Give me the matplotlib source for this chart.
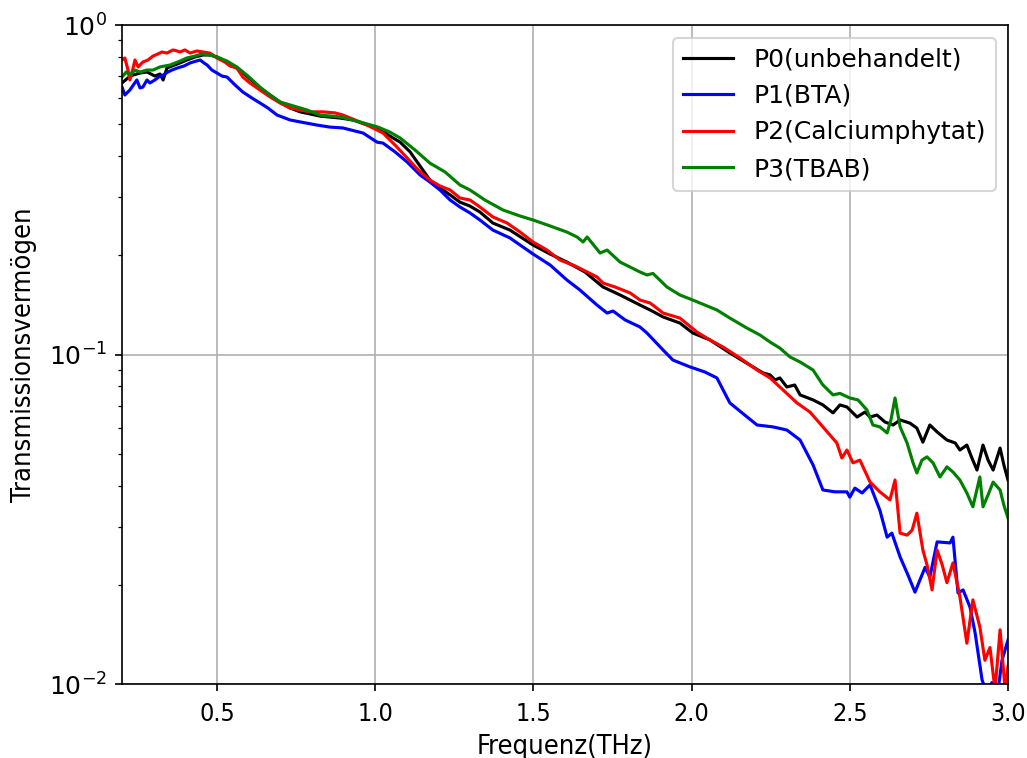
import matplotlib
matplotlib.use("Agg")
import matplotlib.pyplot as plt
import numpy as np

# ---- data ----
p0_x = [0.200, 0.219, 0.235, 0.257, 0.279, 0.304, 0.320, 0.330, 0.342, 0.358, 0.383, 0.405, 0.431, 0.456, 0.478,
        0.500, 0.532, 0.563, 0.598, 0.636, 0.668, 0.699, 0.731, 0.763, 0.826, 0.889, 0.930, 0.968, 1.006, 1.047,
        1.079, 1.110, 1.132, 1.173, 1.205, 1.237, 1.268, 1.300, 1.331, 1.372, 1.426, 1.499, 1.553, 1.606, 1.663,
        1.720, 1.774, 1.837, 1.869, 1.910, 1.963, 2.004, 2.058, 2.121, 2.168, 2.226, 2.248, 2.264, 2.279, 2.301,
        2.326, 2.343, 2.384, 2.415, 2.447, 2.469, 2.491, 2.523, 2.548, 2.564, 2.586, 2.611, 2.637, 2.659, 2.690,
        2.712, 2.731, 2.753, 2.776, 2.807, 2.833, 2.848, 2.870, 2.886, 2.902, 2.921, 2.937, 2.953, 2.975, 2.987, 3.000]
p0_y = [0.667, 0.691, 0.705, 0.715, 0.720, 0.700, 0.710, 0.681, 0.740, 0.751, 0.767, 0.783, 0.800, 0.811, 0.811,
        0.800, 0.772, 0.740, 0.695, 0.644, 0.613, 0.584, 0.560, 0.545, 0.529, 0.522, 0.515, 0.500, 0.487, 0.460,
        0.441, 0.4125, 0.385, 0.3385, 0.320, 0.305, 0.290, 0.282, 0.2707, 0.2506, 0.2386, 0.2149, 0.2018, 0.1908, 0.1780,
        0.1603, 0.1516, 0.1413, 0.1365, 0.1300, 0.1246, 0.1162, 0.1107, 0.1011, 0.0949, 0.0879, 0.0867, 0.0837, 0.0849, 0.0797,
        0.0808, 0.0754, 0.0728, 0.0703, 0.0665, 0.0703, 0.0693, 0.0646, 0.0669, 0.0646, 0.0655, 0.0624, 0.0611, 0.0633, 0.0619,
        0.0598, 0.0542, 0.0611, 0.0582, 0.0550, 0.0539, 0.0513, 0.0531, 0.0485, 0.0446, 0.0531, 0.0478, 0.0446, 0.0520, 0.0462, 0.0416]

p1_x = [0.200, 0.209, 0.225, 0.238, 0.247, 0.257, 0.266, 0.279, 0.288, 0.304, 0.320, 0.330, 0.345, 0.358, 0.374,
        0.396, 0.415, 0.434, 0.447, 0.459, 0.469, 0.484, 0.500, 0.516, 0.532, 0.557, 0.582, 0.611, 0.636, 0.661,
        0.690, 0.731, 0.763, 0.816, 0.857, 0.898, 0.962, 1.006, 1.025, 1.063, 1.101, 1.142, 1.173, 1.205, 1.237,
        1.268, 1.300, 1.331, 1.372, 1.426, 1.499, 1.553, 1.606, 1.647, 1.701, 1.733, 1.752, 1.790, 1.837, 1.859,
        1.910, 1.941, 1.995, 2.042, 2.080, 2.121, 2.168, 2.207, 2.257, 2.301, 2.343, 2.384, 2.415, 2.453, 2.491,
        2.500, 2.516, 2.539, 2.564, 2.595, 2.618, 2.633, 2.659, 2.684, 2.706, 2.738, 2.753, 2.776, 2.817, 2.826,
        2.842, 2.858, 2.880, 2.896, 2.918, 2.934, 2.949, 2.965, 2.981, 3.000]
p1_y = [0.648, 0.613, 0.635, 0.662, 0.681, 0.644, 0.648, 0.681, 0.667, 0.681, 0.700, 0.705, 0.720, 0.730, 0.740,
        0.751, 0.767, 0.777, 0.783, 0.767, 0.756, 0.730, 0.715, 0.700, 0.695, 0.658, 0.626, 0.600, 0.580, 0.560,
        0.533, 0.515, 0.508, 0.497, 0.490, 0.487, 0.470, 0.441, 0.438, 0.412, 0.384, 0.3506, 0.3338, 0.3156, 0.2943,
        0.2803, 0.2688, 0.256, 0.2386, 0.2258, 0.2018, 0.1869, 0.1683, 0.157, 0.1413, 0.1336, 0.1355, 0.1273, 0.1212, 0.1162,
        0.1032, 0.0962, 0.0917, 0.0885, 0.0849, 0.0713, 0.0655, 0.0611, 0.0603, 0.0590, 0.0550, 0.0462, 0.0388, 0.0383, 0.0383,
        0.0369, 0.0393, 0.0380, 0.0402, 0.0337, 0.0279, 0.0287, 0.0243, 0.0214, 0.0190, 0.0226, 0.0211, 0.0270, 0.0268, 0.0279,
        0.0189, 0.0193, 0.0171, 0.0143, 0.0103, 0.0093, 0.0101, 0.0090, 0.0118, 0.0136]

p2_x = [0.200, 0.209, 0.219, 0.225, 0.235, 0.241, 0.251, 0.266, 0.282, 0.298, 0.314, 0.326, 0.342, 0.361, 0.374,
        0.383, 0.399, 0.415, 0.437, 0.456, 0.478, 0.500, 0.525, 0.541, 0.563, 0.582, 0.604, 0.636, 0.668, 0.699,
        0.731, 0.763, 0.794, 0.835, 0.873, 0.898, 0.936, 0.974, 1.006, 1.025, 1.063, 1.101, 1.136, 1.173, 1.205,
        1.237, 1.268, 1.300, 1.331, 1.372, 1.417, 1.458, 1.499, 1.543, 1.584, 1.632, 1.670, 1.701, 1.720, 1.758,
        1.806, 1.837, 1.869, 1.910, 1.963, 2.017, 2.058, 2.099, 2.153, 2.207, 2.248, 2.279, 2.333, 2.374, 2.415,
        2.459, 2.475, 2.491, 2.510, 2.532, 2.564, 2.595, 2.627, 2.643, 2.659, 2.681, 2.697, 2.712, 2.731, 2.744,
        2.760, 2.776, 2.792, 2.807, 2.826, 2.848, 2.870, 2.889, 2.911, 2.927, 2.943, 2.959, 2.975, 2.991, 3.000]
p2_y = [0.783, 0.794, 0.730, 0.681, 0.740, 0.783, 0.746, 0.772, 0.783, 0.805, 0.817, 0.828, 0.822, 0.840, 0.834,
        0.828, 0.840, 0.822, 0.834, 0.828, 0.822, 0.794, 0.772, 0.751, 0.740, 0.695, 0.667, 0.635, 0.605, 0.580,
        0.560, 0.552, 0.545, 0.545, 0.541, 0.533, 0.515, 0.497, 0.480, 0.470, 0.432, 0.395, 0.363, 0.3385, 0.3246,
        0.3156, 0.2985, 0.2943, 0.2803, 0.2615, 0.2506, 0.2353, 0.2195, 0.2075, 0.1935, 0.1856, 0.1780, 0.1719, 0.1648, 0.1603,
        0.1537, 0.1463, 0.1433, 0.1336, 0.1290, 0.1170, 0.1107, 0.1054, 0.0976, 0.0897, 0.0849, 0.0797, 0.0713, 0.0669, 0.0603,
        0.0539, 0.0485, 0.0513, 0.0469, 0.0478, 0.0410, 0.0383, 0.0362, 0.0416, 0.0287, 0.0283, 0.0293, 0.0330, 0.0255, 0.0230,
        0.0193, 0.0255, 0.0230, 0.0203, 0.0233, 0.0184, 0.0133, 0.0180, 0.0149, 0.0118, 0.0129, 0.0096, 0.0146, 0.0096, 0.0113]

p3_x = [0.200, 0.213, 0.225, 0.241, 0.257, 0.279, 0.298, 0.320, 0.352, 0.383, 0.405, 0.431, 0.453, 0.478, 0.500,
        0.532, 0.563, 0.598, 0.636, 0.668, 0.699, 0.731, 0.785, 0.826, 0.889, 0.952, 1.009, 1.047, 1.079, 1.126,
        1.173, 1.221, 1.268, 1.300, 1.347, 1.404, 1.458, 1.499, 1.553, 1.606, 1.638, 1.657, 1.670, 1.711, 1.733,
        1.774, 1.837, 1.859, 1.878, 1.922, 1.963, 2.004, 2.042, 2.080, 2.121, 2.175, 2.216, 2.248, 2.279, 2.311,
        2.343, 2.384, 2.415, 2.447, 2.469, 2.500, 2.526, 2.554, 2.573, 2.595, 2.618, 2.630, 2.643, 2.659, 2.681,
        2.700, 2.712, 2.728, 2.744, 2.763, 2.785, 2.807, 2.826, 2.848, 2.870, 2.889, 2.911, 2.921, 2.937, 2.953,
        2.975, 2.987, 3.000]
p3_y = [0.695, 0.720, 0.705, 0.730, 0.720, 0.730, 0.730, 0.746, 0.756, 0.777, 0.794, 0.805, 0.817, 0.811, 0.800,
        0.777, 0.746, 0.700, 0.648, 0.613, 0.584, 0.572, 0.552, 0.533, 0.526, 0.508, 0.490, 0.473, 0.454, 0.4175,
        0.381, 0.358, 0.327, 0.3156, 0.2943, 0.2745, 0.2632, 0.256, 0.2455, 0.2353, 0.2273, 0.2195, 0.2273, 0.2032, 0.2075,
        0.1908, 0.1780, 0.1743, 0.1762, 0.1603, 0.1516, 0.1463, 0.1413, 0.1365, 0.1290, 0.1203, 0.1146, 0.1091, 0.1046, 0.0983,
        0.0949, 0.0897, 0.0808, 0.0754, 0.0762, 0.0738, 0.0728, 0.0679, 0.0611, 0.0603, 0.0578, 0.0633, 0.0738, 0.0603, 0.0539,
        0.0469, 0.0437, 0.0478, 0.0489, 0.0469, 0.0425, 0.0456, 0.0440, 0.0416, 0.0380, 0.0345, 0.0425, 0.0345, 0.0375, 0.0410,
        0.0388, 0.0349, 0.0319]

series = [
    (p0_x, p0_y, "P0(unbehandelt)", "black"),
    (p1_x, p1_y, "P1(BTA)", "blue"),
    (p2_x, p2_y, "P2(Calciumphytat)", "red"),
    (p3_x, p3_y, "P3(TBAB)", "green"),
]

x_ticks = [0.5, 1.0, 1.5, 2.0, 2.5, 3.0]

W, H = 1027, 758
dpi = 150
fig = plt.figure(figsize=(W / dpi, H / dpi), dpi=dpi)
ax = fig.add_axes([122 / W, (H - 684) / H, 886 / W, 659 / H])

for xs, ys, lab, col in series:
    ax.plot(xs, ys, color=col, label=lab, linewidth=1.5)

ax.set_yscale("log")
ax.set_xlim(0.2, 3.0)
ax.set_ylim(1e-2, 1e0)
ax.set_xticks(x_ticks)
ax.set_xticklabels([f"{v:.1f}" for v in x_ticks], fontstretch="condensed", fontsize=12)
ax.tick_params(axis="x", pad=5)
ax.tick_params(axis="y", labelsize=12)
ax.grid(True, which="major", color="#b0b0b0", linewidth=0.8)
ax.set_axisbelow(True)
ax.set_xlabel("Frequenz(THz)", fontstretch="condensed", fontsize=13, labelpad=4)
ax.set_ylabel("Transmissionsvermögen", fontstretch="condensed", fontsize=13, labelpad=6)
ax.legend(loc="upper right", fontsize=12)

fig.savefig("out.png", dpi=dpi)
